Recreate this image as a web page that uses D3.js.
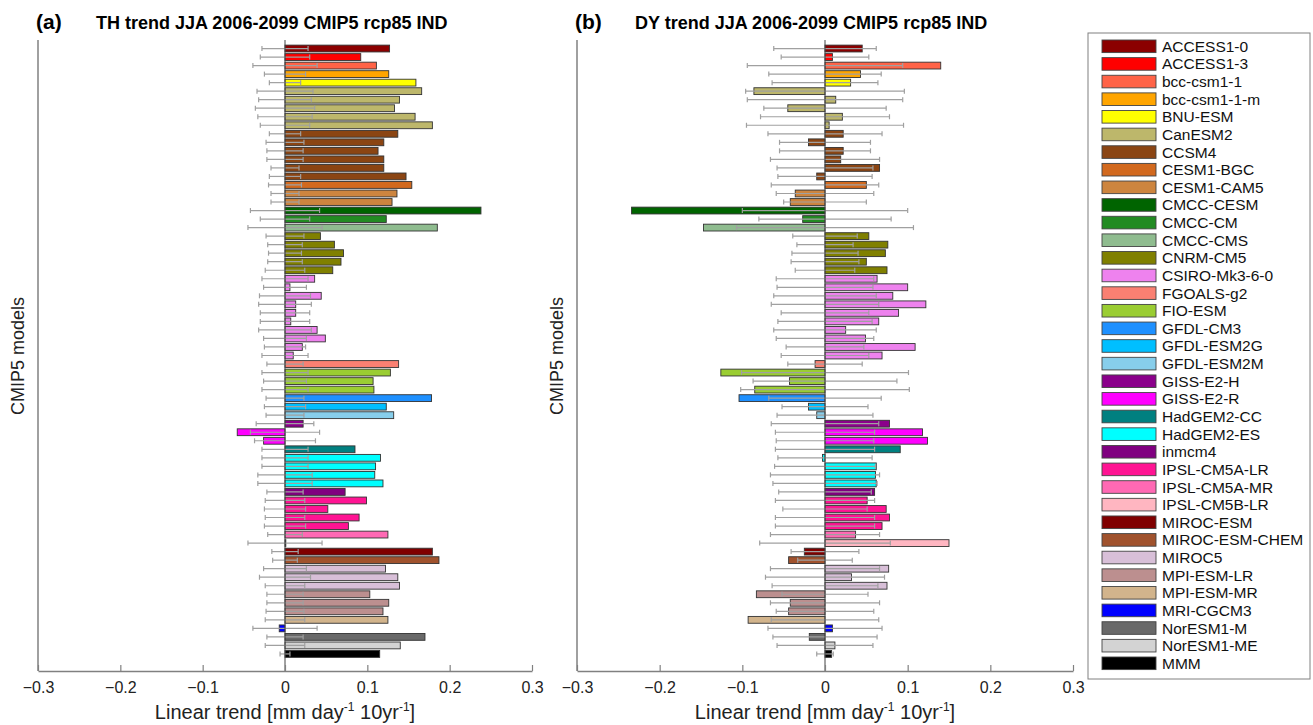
<!DOCTYPE html>
<html lang="en">
<head>
<meta charset="UTF-8">
<title>CMIP5 trends</title>
<script src="https://cdn.jsdelivr.net/npm/d3@7/dist/d3.min.js"></script>
<style>
  body { margin: 0; background: white; }
  text { font-family: "Liberation Sans", Arial, Helvetica, sans-serif; }
</style>
</head>
<body>
<script>
// models in plotting order, with number of ensemble members each
var models = ["ACCESS1-0","ACCESS1-3","bcc-csm1-1","bcc-csm1-1-m","BNU-ESM","CanESM2","CCSM4","CESM1-BGC","CESM1-CAM5",
  "CMCC-CESM","CMCC-CM","CMCC-CMS","CNRM-CM5","CSIRO-Mk3-6-0","FGOALS-g2","FIO-ESM","GFDL-CM3","GFDL-ESM2G","GFDL-ESM2M",
  "GISS-E2-H","GISS-E2-R","HadGEM2-CC","HadGEM2-ES","inmcm4","IPSL-CM5A-LR","IPSL-CM5A-MR","IPSL-CM5B-LR","MIROC-ESM",
  "MIROC-ESM-CHEM","MIROC5","MPI-ESM-LR","MPI-ESM-MR","MRI-CGCM3","NorESM1-M","NorESM1-ME","MMM"];
var members = [1,1,1,1,1,5,6,1,2, 1,1,1,5,10,1,3,1,1,1, 1,2,1,4,1,4,1,1,1, 1,3,3,1,1,1,1,1];
var colors = ["#8b0000","#ff0000","#ff6347","#ffa500","#ffff00","#bdb76b","#8b4513","#d2691e","#cd853f",
  "#006400","#228b22","#8fbc8f","#808000","#ee82ee","#fa8072","#9acd32","#1e90ff","#00bfff","#87ceeb",
  "#8b008b","#ff00ff","#008080","#00ffff","#800080","#ff1493","#ff69b4","#ffb6c1","#800000",
  "#a0522d","#d8bfd8","#bc8f8f","#d2b48c","#0000ff","#696969","#d3d3d3","#000000"];

// (a) TH trend, one value per member
var thTrend = [0.127,0.092,0.111,0.126,0.159,
  0.166,0.139,0.133,0.158,0.179,
  0.137,0.120,0.113,0.120,0.120,0.147,
  0.154, 0.136,0.130,
  0.238,0.123,0.185,
  0.043,0.060,0.071,0.068,0.058,
  0.036,0.006,0.044,0.013,0.013,0.007,0.039,0.049,0.021,0.010,
  0.138, 0.128,0.107,0.108,
  0.178,0.123,0.132,
  0.022, -0.058,-0.026, 0.085,
  0.116,0.110,0.109,0.119,
  0.073, 0.099,0.052,0.090,0.077,
  0.125, 0.001, 0.179, 0.187,
  0.122,0.137,0.139,
  0.103,0.126,0.119,
  0.125, -0.007, 0.170, 0.140, 0.115];
var thErr = [0.028,0.030,0.039,0.025,0.019,
  0.034,0.032,0.036,0.033,0.030,
  0.019,0.023,0.022,0.022,0.017,0.019,
  0.020, 0.017,0.017,
  0.042,0.030,0.045,
  0.023,0.021,0.020,0.021,0.024,
  0.028,0.026,0.031,0.032,0.030,0.030,0.032,0.026,0.025,0.028,
  0.022, 0.028,0.026,0.028,
  0.023,0.025,0.023,
  0.035, 0.042,0.037, 0.028,
  0.028,0.028,0.033,0.033,
  0.022, 0.024,0.025,0.024,0.025,
  0.021, 0.045, 0.016, 0.015,
  0.026,0.031,0.024,
  0.022,0.022,0.023,
  0.024, 0.039, 0.022, 0.024, 0.006];

// (b) DY trend
var dyTrend = [0.045,0.009,0.140,0.043,0.031,
  -0.086,0.013,-0.045,0.021,0.005,
  0.022,-0.020,0.022,0.019,0.066,-0.010,
  0.050, -0.036,-0.042,
  -0.234,-0.027,-0.147,
  0.053,0.076,0.073,0.050,0.075,
  0.063,0.100,0.082,0.122,0.089,0.065,0.025,0.049,0.109,0.069,
  -0.012, -0.126,-0.043,-0.085,
  -0.104,-0.020,-0.010,
  0.078, 0.118,0.124, 0.091,
  -0.003,0.062,0.061,0.062,
  0.060, 0.051,0.074,0.078,0.069,
  0.037, 0.150, -0.025, -0.044,
  0.077,0.032,0.075,
  -0.083,-0.042,-0.044,
  -0.093, 0.009, -0.019, 0.012, 0.008];
var dyErr = [0.062,0.053,0.094,0.068,0.064,
  0.096,0.094,0.074,0.078,0.095,
  0.069,0.055,0.055,0.066,0.058,0.057,
  0.065, 0.059,0.050,
  0.100,0.080,0.107,
  0.039,0.034,0.040,0.041,0.036,
  0.059,0.058,0.062,0.065,0.053,0.057,0.062,0.059,0.047,0.053,
  0.045, 0.101,0.087,0.102,
  0.068,0.052,0.058,
  0.065, 0.060,0.059, 0.060,
  0.057,0.061,0.066,0.063,
  0.056, 0.060,0.051,0.060,0.060,
  0.066, 0.079, 0.041, 0.033,
  0.066,0.072,0.064,
  0.052,0.066,0.059,
  0.065, 0.069, 0.063, 0.058, 0.010];

var xTicks = [-0.3,-0.2,-0.1,0,0.1,0.2,0.3];

// expand members into rows
var rowColor = [];
models.forEach(function(m, i){
  for (var k = 0; k < members[i]; k++) rowColor.push(colors[i]);
});

var W = 1313, H = 725;
var svg = d3.select("body").append("svg").attr("width", W).attr("height", H);

var y = d3.scaleLinear().domain([0, rowColor.length + 2]).range([40, 671]);
var barH = 0.8 * (y(1) - y(0));

function panel(x0, x1, letter, title, vals, errs){
  var x = d3.scaleLinear().domain([-0.3, 0.3]).range([x0, x1]);
  var g = svg.append("g");

  var rows = vals.map(function(v, i){ return {v: v, e: errs[i], c: rowColor[i], i: i}; });

  g.selectAll("rect.bar").data(rows).enter().append("rect")
    .attr("class", "bar")
    .attr("x", function(d){ return x(Math.min(0, d.v)); })
    .attr("y", function(d){ return y(d.i + 1) - barH / 2; })
    .attr("width", function(d){ return Math.abs(x(d.v) - x(0)); })
    .attr("height", barH)
    .attr("fill", function(d){ return d.c; })
    .attr("stroke", "#333")
    .attr("stroke-width", 0.9);

  // error bars centred on zero
  var eb = g.selectAll("g.err").data(rows).enter().append("g")
    .attr("stroke", "#a0a0a0").attr("stroke-width", 1.2);
  eb.append("line")
    .attr("x1", function(d){ return x(-d.e); }).attr("x2", function(d){ return x(d.e); })
    .attr("y1", function(d){ return y(d.i + 1); }).attr("y2", function(d){ return y(d.i + 1); });
  [-1, 1].forEach(function(s){
    eb.append("line")
      .attr("x1", function(d){ return x(s * d.e); }).attr("x2", function(d){ return x(s * d.e); })
      .attr("y1", function(d){ return y(d.i + 1) - 2.5; }).attr("y2", function(d){ return y(d.i + 1) + 2.5; });
  });

  // zero baseline
  g.append("line").attr("x1", x(0)).attr("x2", x(0))
    .attr("y1", y(0)).attr("y2", y.range()[1])
    .attr("stroke", "#444").attr("stroke-width", 1);

  // axes
  g.append("line").attr("x1", x0).attr("x2", x0).attr("y1", 40).attr("y2", 671)
    .attr("stroke", "#808080").attr("stroke-width", 1.5);
  var ax = g.append("g").attr("transform", "translate(0,671)")
    .call(d3.axisBottom(x).tickValues(xTicks).tickSizeInner(-6).tickSizeOuter(0)
      .tickFormat(function(d){ return d === 0 ? "0" : d3.format(".1f")(d); }));
  ax.select(".domain").attr("stroke", "#808080").attr("stroke-width", 1.5);
  ax.selectAll(".tick line").attr("stroke", "#808080").attr("stroke-width", 1.2);
  ax.selectAll(".tick text").attr("y", 11).attr("font-size", 16).attr("fill", "#222")
    .attr("font-family", "Liberation Sans, Arial, sans-serif");

  var xl = g.append("text").attr("x", x(0)).attr("y", 719).attr("text-anchor", "middle")
    .attr("font-size", 20).attr("fill", "#222");
  xl.append("tspan").text("Linear trend [mm day");
  xl.append("tspan").attr("dy", -8).attr("font-size", 12).text("-1");
  xl.append("tspan").attr("dy", 8).text(" 10yr");
  xl.append("tspan").attr("dy", -8).attr("font-size", 12).text("-1");
  xl.append("tspan").attr("dy", 8).text("]");

  g.append("text").attr("transform", "translate(" + (x0 - 14) + ",356) rotate(-90)")
    .attr("text-anchor", "middle").attr("font-size", 18).attr("fill", "#222")
    .text("CMIP5 models");

  g.append("text").attr("x", x0 - 2).attr("y", 29).attr("font-size", 21)
    .attr("font-weight", "bold").text(letter);
  g.append("text").attr("x", x0 + 58).attr("y", 29).attr("font-size", 18)
    .attr("font-weight", "bold").text(title);
}

panel(38, 532, "(a)", "TH trend JJA 2006-2099 CMIP5 rcp85 IND", thTrend, thErr);
panel(577, 1073, "(b)", "DY trend JJA 2006-2099 CMIP5 rcp85 IND", dyTrend, dyErr);

// legend
var lg = svg.append("g");
lg.append("rect").attr("x", 1088).attr("y", 33).attr("width", 222).attr("height", 646)
  .attr("fill", "white").attr("stroke", "#808080").attr("stroke-width", 1);
var ly = d3.scaleLinear().domain([0, models.length - 1]).range([46.3, 663.3]);
var items = lg.selectAll("g.item").data(models).enter().append("g")
  .attr("transform", function(d, i){ return "translate(0," + ly(i) + ")"; });
items.append("rect").attr("x", 1102).attr("y", -6.3).attr("width", 54).attr("height", 12.6)
  .attr("fill", function(d, i){ return colors[i]; })
  .attr("stroke", "#444").attr("stroke-width", 0.9);
items.append("text").attr("x", 1162).attr("y", 5.5).attr("font-size", 15.5).attr("fill", "#111")
  .text(function(d){ return d; });
</script>
</body>
</html>
